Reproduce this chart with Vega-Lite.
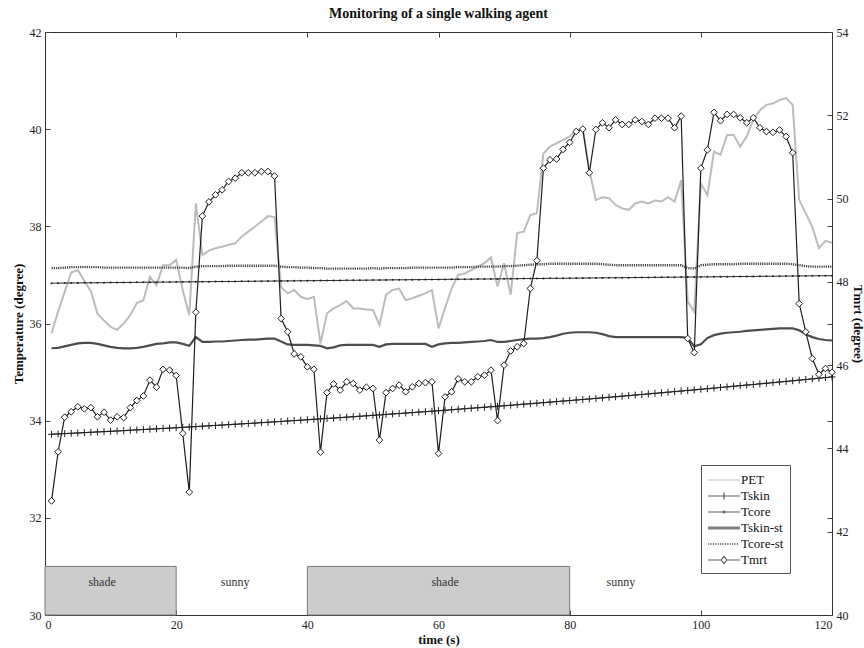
{
"$schema":"https://vega.github.io/schema/vega-lite/v6.json",
"width":787,"height":583,
"autosize":"none",
"padding":{"left":45,"top":32,"right":32,"bottom":33},
"title":{"text":"Monitoring of a single walking agent","font":"Liberation Serif","fontSize":14,"fontWeight":"bold","color":"#111","anchor":"middle","frame":"group","offset":5},
"config":{
 "font":"Liberation Serif",
 "view":{"stroke":"#333","strokeWidth":1},
 "axis":{"labelFont":"Liberation Serif","labelFontSize":12,"labelColor":"#222","titleFont":"Liberation Serif","titleFontSize":13,"titleFontWeight":"bold","titleColor":"#111","domainColor":"#333","tickColor":"#444","grid":false,"tickSize":-5,"labelPadding":9}
},
"datasets":{
"zones":[{"x0":0,"x1":20},{"x0":40,"x1":80}],
"labels":[{"x":8.7,"label":"shade"},{"x":29,"label":"sunny"},{"x":61,"label":"shade"},{"x":87.8,"label":"sunny"}],
"d":[
{"t":1,"PET":35.80,"Tskin":33.720,"Tcore":36.830,"Tskin_st":35.49,"Tcore_st":37.14,"Tmrt":42.74},
{"t":2,"PET":36.25,"Tskin":33.727,"Tcore":36.831,"Tskin_st":35.50,"Tcore_st":37.14,"Tmrt":43.92},
{"t":3,"PET":36.65,"Tskin":33.734,"Tcore":36.833,"Tskin_st":35.53,"Tcore_st":37.15,"Tmrt":44.75},
{"t":4,"PET":37.05,"Tskin":33.740,"Tcore":36.834,"Tskin_st":35.56,"Tcore_st":37.16,"Tmrt":44.88},
{"t":5,"PET":37.10,"Tskin":33.747,"Tcore":36.835,"Tskin_st":35.59,"Tcore_st":37.16,"Tmrt":45.00},
{"t":6,"PET":36.88,"Tskin":33.754,"Tcore":36.837,"Tskin_st":35.60,"Tcore_st":37.16,"Tmrt":44.95},
{"t":7,"PET":36.66,"Tskin":33.761,"Tcore":36.838,"Tskin_st":35.60,"Tcore_st":37.16,"Tmrt":44.98},
{"t":8,"PET":36.20,"Tskin":33.768,"Tcore":36.839,"Tskin_st":35.58,"Tcore_st":37.16,"Tmrt":44.76},
{"t":9,"PET":36.06,"Tskin":33.774,"Tcore":36.840,"Tskin_st":35.55,"Tcore_st":37.15,"Tmrt":44.87},
{"t":10,"PET":35.93,"Tskin":33.781,"Tcore":36.842,"Tskin_st":35.52,"Tcore_st":37.15,"Tmrt":44.68},
{"t":11,"PET":35.87,"Tskin":33.788,"Tcore":36.843,"Tskin_st":35.50,"Tcore_st":37.15,"Tmrt":44.76},
{"t":12,"PET":36.00,"Tskin":33.795,"Tcore":36.844,"Tskin_st":35.49,"Tcore_st":37.15,"Tmrt":44.74},
{"t":13,"PET":36.17,"Tskin":33.803,"Tcore":36.846,"Tskin_st":35.49,"Tcore_st":37.15,"Tmrt":44.98},
{"t":14,"PET":36.42,"Tskin":33.810,"Tcore":36.847,"Tskin_st":35.50,"Tcore_st":37.15,"Tmrt":45.15},
{"t":15,"PET":36.48,"Tskin":33.818,"Tcore":36.848,"Tskin_st":35.52,"Tcore_st":37.15,"Tmrt":45.26},
{"t":16,"PET":36.96,"Tskin":33.825,"Tcore":36.850,"Tskin_st":35.55,"Tcore_st":37.15,"Tmrt":45.64},
{"t":17,"PET":36.79,"Tskin":33.832,"Tcore":36.851,"Tskin_st":35.58,"Tcore_st":37.15,"Tmrt":45.47},
{"t":18,"PET":37.20,"Tskin":33.840,"Tcore":36.852,"Tskin_st":35.59,"Tcore_st":37.15,"Tmrt":45.90},
{"t":19,"PET":37.20,"Tskin":33.847,"Tcore":36.853,"Tskin_st":35.61,"Tcore_st":37.15,"Tmrt":45.88},
{"t":20,"PET":37.31,"Tskin":33.855,"Tcore":36.855,"Tskin_st":35.61,"Tcore_st":37.15,"Tmrt":45.75},
{"t":21,"PET":36.69,"Tskin":33.862,"Tcore":36.856,"Tskin_st":35.58,"Tcore_st":37.15,"Tmrt":44.36},
{"t":22,"PET":36.17,"Tskin":33.870,"Tcore":36.857,"Tskin_st":35.54,"Tcore_st":37.14,"Tmrt":42.95},
{"t":23,"PET":38.47,"Tskin":33.878,"Tcore":36.859,"Tskin_st":35.72,"Tcore_st":37.17,"Tmrt":47.27},
{"t":24,"PET":37.41,"Tskin":33.886,"Tcore":36.860,"Tskin_st":35.62,"Tcore_st":37.18,"Tmrt":49.58},
{"t":25,"PET":37.50,"Tskin":33.894,"Tcore":36.861,"Tskin_st":35.62,"Tcore_st":37.18,"Tmrt":49.92},
{"t":26,"PET":37.55,"Tskin":33.902,"Tcore":36.863,"Tskin_st":35.63,"Tcore_st":37.18,"Tmrt":50.09},
{"t":27,"PET":37.58,"Tskin":33.910,"Tcore":36.864,"Tskin_st":35.63,"Tcore_st":37.18,"Tmrt":50.21},
{"t":28,"PET":37.62,"Tskin":33.918,"Tcore":36.865,"Tskin_st":35.64,"Tcore_st":37.19,"Tmrt":50.41},
{"t":29,"PET":37.65,"Tskin":33.926,"Tcore":36.866,"Tskin_st":35.65,"Tcore_st":37.19,"Tmrt":50.49},
{"t":30,"PET":37.79,"Tskin":33.934,"Tcore":36.868,"Tskin_st":35.66,"Tcore_st":37.19,"Tmrt":50.62},
{"t":31,"PET":37.89,"Tskin":33.942,"Tcore":36.869,"Tskin_st":35.67,"Tcore_st":37.19,"Tmrt":50.62},
{"t":32,"PET":37.99,"Tskin":33.950,"Tcore":36.870,"Tskin_st":35.67,"Tcore_st":37.19,"Tmrt":50.62},
{"t":33,"PET":38.10,"Tskin":33.959,"Tcore":36.872,"Tskin_st":35.68,"Tcore_st":37.19,"Tmrt":50.65},
{"t":34,"PET":38.21,"Tskin":33.967,"Tcore":36.873,"Tskin_st":35.69,"Tcore_st":37.19,"Tmrt":50.65},
{"t":35,"PET":38.19,"Tskin":33.976,"Tcore":36.874,"Tskin_st":35.69,"Tcore_st":37.19,"Tmrt":50.54},
{"t":36,"PET":36.75,"Tskin":33.984,"Tcore":36.876,"Tskin_st":35.63,"Tcore_st":37.17,"Tmrt":47.12},
{"t":37,"PET":36.62,"Tskin":33.993,"Tcore":36.877,"Tskin_st":35.57,"Tcore_st":37.16,"Tmrt":46.80},
{"t":38,"PET":36.69,"Tskin":34.002,"Tcore":36.878,"Tskin_st":35.56,"Tcore_st":37.16,"Tmrt":46.27},
{"t":39,"PET":36.55,"Tskin":34.010,"Tcore":36.879,"Tskin_st":35.56,"Tcore_st":37.15,"Tmrt":46.20},
{"t":40,"PET":36.50,"Tskin":34.019,"Tcore":36.881,"Tskin_st":35.56,"Tcore_st":37.15,"Tmrt":45.96},
{"t":41,"PET":36.55,"Tskin":34.028,"Tcore":36.882,"Tskin_st":35.55,"Tcore_st":37.14,"Tmrt":45.90},
{"t":42,"PET":35.59,"Tskin":34.037,"Tcore":36.883,"Tskin_st":35.54,"Tcore_st":37.14,"Tmrt":43.91},
{"t":43,"PET":36.21,"Tskin":34.046,"Tcore":36.885,"Tskin_st":35.49,"Tcore_st":37.13,"Tmrt":45.34},
{"t":44,"PET":36.31,"Tskin":34.054,"Tcore":36.886,"Tskin_st":35.51,"Tcore_st":37.13,"Tmrt":45.55},
{"t":45,"PET":36.38,"Tskin":34.063,"Tcore":36.887,"Tskin_st":35.55,"Tcore_st":37.13,"Tmrt":45.40},
{"t":46,"PET":36.46,"Tskin":34.072,"Tcore":36.889,"Tskin_st":35.56,"Tcore_st":37.13,"Tmrt":45.60},
{"t":47,"PET":36.31,"Tskin":34.081,"Tcore":36.890,"Tskin_st":35.56,"Tcore_st":37.13,"Tmrt":45.56},
{"t":48,"PET":36.31,"Tskin":34.091,"Tcore":36.891,"Tskin_st":35.56,"Tcore_st":37.13,"Tmrt":45.40},
{"t":49,"PET":36.29,"Tskin":34.100,"Tcore":36.892,"Tskin_st":35.56,"Tcore_st":37.13,"Tmrt":45.47},
{"t":50,"PET":36.28,"Tskin":34.110,"Tcore":36.894,"Tskin_st":35.56,"Tcore_st":37.14,"Tmrt":45.44},
{"t":51,"PET":35.97,"Tskin":34.119,"Tcore":36.895,"Tskin_st":35.52,"Tcore_st":37.13,"Tmrt":44.20},
{"t":52,"PET":36.59,"Tskin":34.128,"Tcore":36.896,"Tskin_st":35.57,"Tcore_st":37.14,"Tmrt":45.34},
{"t":53,"PET":36.69,"Tskin":34.138,"Tcore":36.898,"Tskin_st":35.58,"Tcore_st":37.14,"Tmrt":45.44},
{"t":54,"PET":36.72,"Tskin":34.147,"Tcore":36.899,"Tskin_st":35.58,"Tcore_st":37.14,"Tmrt":45.52},
{"t":55,"PET":36.48,"Tskin":34.157,"Tcore":36.900,"Tskin_st":35.58,"Tcore_st":37.14,"Tmrt":45.36},
{"t":56,"PET":36.52,"Tskin":34.166,"Tcore":36.902,"Tskin_st":35.58,"Tcore_st":37.15,"Tmrt":45.48},
{"t":57,"PET":36.57,"Tskin":34.176,"Tcore":36.903,"Tskin_st":35.58,"Tcore_st":37.15,"Tmrt":45.56},
{"t":58,"PET":36.62,"Tskin":34.186,"Tcore":36.904,"Tskin_st":35.58,"Tcore_st":37.15,"Tmrt":45.58},
{"t":59,"PET":36.69,"Tskin":34.195,"Tcore":36.905,"Tskin_st":35.52,"Tcore_st":37.15,"Tmrt":45.60},
{"t":60,"PET":35.90,"Tskin":34.205,"Tcore":36.907,"Tskin_st":35.57,"Tcore_st":37.15,"Tmrt":43.88},
{"t":61,"PET":36.32,"Tskin":34.215,"Tcore":36.908,"Tskin_st":35.59,"Tcore_st":37.15,"Tmrt":45.24},
{"t":62,"PET":36.72,"Tskin":34.225,"Tcore":36.909,"Tskin_st":35.60,"Tcore_st":37.15,"Tmrt":45.36},
{"t":63,"PET":37.00,"Tskin":34.235,"Tcore":36.911,"Tskin_st":35.60,"Tcore_st":37.16,"Tmrt":45.67},
{"t":64,"PET":37.03,"Tskin":34.246,"Tcore":36.912,"Tskin_st":35.61,"Tcore_st":37.16,"Tmrt":45.60},
{"t":65,"PET":37.10,"Tskin":34.256,"Tcore":36.913,"Tskin_st":35.62,"Tcore_st":37.16,"Tmrt":45.60},
{"t":66,"PET":37.17,"Tskin":34.266,"Tcore":36.915,"Tskin_st":35.63,"Tcore_st":37.17,"Tmrt":45.72},
{"t":67,"PET":37.24,"Tskin":34.276,"Tcore":36.916,"Tskin_st":35.64,"Tcore_st":37.17,"Tmrt":45.76},
{"t":68,"PET":37.36,"Tskin":34.286,"Tcore":36.917,"Tskin_st":35.66,"Tcore_st":37.17,"Tmrt":45.88},
{"t":69,"PET":36.76,"Tskin":34.297,"Tcore":36.918,"Tskin_st":35.62,"Tcore_st":37.17,"Tmrt":44.67},
{"t":70,"PET":37.24,"Tskin":34.307,"Tcore":36.920,"Tskin_st":35.62,"Tcore_st":37.18,"Tmrt":46.00},
{"t":71,"PET":36.59,"Tskin":34.317,"Tcore":36.921,"Tskin_st":35.64,"Tcore_st":37.18,"Tmrt":46.34},
{"t":72,"PET":37.86,"Tskin":34.328,"Tcore":36.922,"Tskin_st":35.66,"Tcore_st":37.19,"Tmrt":46.44},
{"t":73,"PET":37.89,"Tskin":34.339,"Tcore":36.924,"Tskin_st":35.68,"Tcore_st":37.20,"Tmrt":46.52},
{"t":74,"PET":38.23,"Tskin":34.349,"Tcore":36.925,"Tskin_st":35.69,"Tcore_st":37.21,"Tmrt":47.84},
{"t":75,"PET":38.27,"Tskin":34.360,"Tcore":36.926,"Tskin_st":35.69,"Tcore_st":37.22,"Tmrt":48.51},
{"t":76,"PET":39.50,"Tskin":34.371,"Tcore":36.928,"Tskin_st":35.70,"Tcore_st":37.22,"Tmrt":50.73},
{"t":77,"PET":39.64,"Tskin":34.382,"Tcore":36.929,"Tskin_st":35.72,"Tcore_st":37.23,"Tmrt":50.93},
{"t":78,"PET":39.71,"Tskin":34.393,"Tcore":36.930,"Tskin_st":35.75,"Tcore_st":37.23,"Tmrt":50.95},
{"t":79,"PET":39.78,"Tskin":34.403,"Tcore":36.931,"Tskin_st":35.79,"Tcore_st":37.23,"Tmrt":51.18},
{"t":80,"PET":39.85,"Tskin":34.414,"Tcore":36.933,"Tskin_st":35.81,"Tcore_st":37.23,"Tmrt":51.35},
{"t":81,"PET":39.98,"Tskin":34.425,"Tcore":36.934,"Tskin_st":35.82,"Tcore_st":37.23,"Tmrt":51.61},
{"t":82,"PET":40.02,"Tskin":34.436,"Tcore":36.935,"Tskin_st":35.82,"Tcore_st":37.23,"Tmrt":51.67},
{"t":83,"PET":39.15,"Tskin":34.447,"Tcore":36.937,"Tskin_st":35.82,"Tcore_st":37.23,"Tmrt":50.62},
{"t":84,"PET":38.54,"Tskin":34.459,"Tcore":36.938,"Tskin_st":35.81,"Tcore_st":37.23,"Tmrt":51.66},
{"t":85,"PET":38.60,"Tskin":34.470,"Tcore":36.939,"Tskin_st":35.78,"Tcore_st":37.22,"Tmrt":51.82},
{"t":86,"PET":38.58,"Tskin":34.481,"Tcore":36.941,"Tskin_st":35.74,"Tcore_st":37.21,"Tmrt":51.70},
{"t":87,"PET":38.44,"Tskin":34.493,"Tcore":36.942,"Tskin_st":35.72,"Tcore_st":37.20,"Tmrt":51.89},
{"t":88,"PET":38.37,"Tskin":34.504,"Tcore":36.943,"Tskin_st":35.72,"Tcore_st":37.20,"Tmrt":51.78},
{"t":89,"PET":38.34,"Tskin":34.516,"Tcore":36.944,"Tskin_st":35.72,"Tcore_st":37.20,"Tmrt":51.78},
{"t":90,"PET":38.47,"Tskin":34.527,"Tcore":36.946,"Tskin_st":35.72,"Tcore_st":37.20,"Tmrt":51.89},
{"t":91,"PET":38.51,"Tskin":34.539,"Tcore":36.947,"Tskin_st":35.72,"Tcore_st":37.20,"Tmrt":51.85},
{"t":92,"PET":38.47,"Tskin":34.551,"Tcore":36.948,"Tskin_st":35.72,"Tcore_st":37.20,"Tmrt":51.78},
{"t":93,"PET":38.53,"Tskin":34.563,"Tcore":36.950,"Tskin_st":35.72,"Tcore_st":37.20,"Tmrt":51.93},
{"t":94,"PET":38.51,"Tskin":34.574,"Tcore":36.951,"Tskin_st":35.72,"Tcore_st":37.20,"Tmrt":51.93},
{"t":95,"PET":38.60,"Tskin":34.586,"Tcore":36.952,"Tskin_st":35.72,"Tcore_st":37.20,"Tmrt":51.93},
{"t":96,"PET":38.51,"Tskin":34.598,"Tcore":36.954,"Tskin_st":35.72,"Tcore_st":37.20,"Tmrt":51.70},
{"t":97,"PET":38.95,"Tskin":34.610,"Tcore":36.955,"Tskin_st":35.72,"Tcore_st":37.20,"Tmrt":51.98},
{"t":98,"PET":36.45,"Tskin":34.622,"Tcore":36.956,"Tskin_st":35.70,"Tcore_st":37.14,"Tmrt":46.64},
{"t":99,"PET":36.24,"Tskin":34.634,"Tcore":36.957,"Tskin_st":35.53,"Tcore_st":37.13,"Tmrt":46.30},
{"t":100,"PET":38.88,"Tskin":34.646,"Tcore":36.959,"Tskin_st":35.57,"Tcore_st":37.20,"Tmrt":50.73},
{"t":101,"PET":38.64,"Tskin":34.658,"Tcore":36.960,"Tskin_st":35.70,"Tcore_st":37.21,"Tmrt":51.17},
{"t":102,"PET":39.54,"Tskin":34.670,"Tcore":36.961,"Tskin_st":35.76,"Tcore_st":37.22,"Tmrt":52.07},
{"t":103,"PET":39.47,"Tskin":34.683,"Tcore":36.963,"Tskin_st":35.79,"Tcore_st":37.22,"Tmrt":51.87},
{"t":104,"PET":39.88,"Tskin":34.695,"Tcore":36.964,"Tskin_st":35.81,"Tcore_st":37.22,"Tmrt":52.02},
{"t":105,"PET":39.88,"Tskin":34.708,"Tcore":36.965,"Tskin_st":35.82,"Tcore_st":37.22,"Tmrt":52.02},
{"t":106,"PET":39.64,"Tskin":34.720,"Tcore":36.967,"Tskin_st":35.83,"Tcore_st":37.23,"Tmrt":51.94},
{"t":107,"PET":39.85,"Tskin":34.733,"Tcore":36.968,"Tskin_st":35.85,"Tcore_st":37.23,"Tmrt":51.82},
{"t":108,"PET":40.19,"Tskin":34.745,"Tcore":36.969,"Tskin_st":35.86,"Tcore_st":37.23,"Tmrt":51.94},
{"t":109,"PET":40.39,"Tskin":34.758,"Tcore":36.970,"Tskin_st":35.87,"Tcore_st":37.23,"Tmrt":51.70},
{"t":110,"PET":40.50,"Tskin":34.770,"Tcore":36.972,"Tskin_st":35.88,"Tcore_st":37.23,"Tmrt":51.61},
{"t":111,"PET":40.53,"Tskin":34.783,"Tcore":36.973,"Tskin_st":35.89,"Tcore_st":37.23,"Tmrt":51.59},
{"t":112,"PET":40.60,"Tskin":34.796,"Tcore":36.974,"Tskin_st":35.90,"Tcore_st":37.23,"Tmrt":51.65},
{"t":113,"PET":40.64,"Tskin":34.808,"Tcore":36.976,"Tskin_st":35.90,"Tcore_st":37.23,"Tmrt":51.49},
{"t":114,"PET":40.50,"Tskin":34.821,"Tcore":36.977,"Tskin_st":35.90,"Tcore_st":37.22,"Tmrt":51.10},
{"t":115,"PET":38.54,"Tskin":34.834,"Tcore":36.978,"Tskin_st":35.86,"Tcore_st":37.20,"Tmrt":47.48},
{"t":116,"PET":38.27,"Tskin":34.847,"Tcore":36.980,"Tskin_st":35.78,"Tcore_st":37.18,"Tmrt":46.80},
{"t":117,"PET":37.99,"Tskin":34.860,"Tcore":36.981,"Tskin_st":35.72,"Tcore_st":37.17,"Tmrt":46.16},
{"t":118,"PET":37.55,"Tskin":34.874,"Tcore":36.982,"Tskin_st":35.68,"Tcore_st":37.17,"Tmrt":45.78},
{"t":119,"PET":37.70,"Tskin":34.887,"Tcore":36.983,"Tskin_st":35.66,"Tcore_st":37.17,"Tmrt":45.92},
{"t":120,"PET":37.66,"Tskin":34.900,"Tcore":36.985,"Tskin_st":35.65,"Tcore_st":37.17,"Tmrt":45.83}
]},
"data":{"name":"d"},
"resolve":{"scale":{"y":"independent"},"axis":{"x":"independent","y":"independent"}},
"layer":[
{"data":{"name":"zones"},
 "mark":{"type":"rect","fill":"#cccccc","stroke":"#7a7a7a","strokeWidth":1},
 "encoding":{
  "x":{"field":"x0","type":"quantitative","scale":{"domain":[0,120],"nice":false,"zero":false},"axis":null},
  "x2":{"field":"x1"},
  "y":{"datum":30,"type":"quantitative","scale":{"domain":[30,42],"nice":false,"zero":false},"axis":null},
  "y2":{"datum":31}}},
{"data":{"name":"labels"},
 "mark":{"type":"text","font":"Liberation Serif","fontSize":12,"color":"#333"},
 "encoding":{
  "x":{"field":"x","type":"quantitative","scale":{"domain":[0,120],"nice":false,"zero":false},"axis":null},
  "y":{"datum":30.68,"type":"quantitative","scale":{"domain":[30,42],"nice":false,"zero":false},"axis":null},
  "text":{"field":"label"}}},
{"mark":{"type":"line","color":"#bcbcbc","strokeWidth":2},
 "encoding":{
  "x":{"field":"t","type":"quantitative","scale":{"domain":[0,120],"nice":false,"zero":false},
       "axis":{"orient":"bottom","values":[0,20,40,60,80,100,120],"title":"time (s)","titlePadding":3}},
  "y":{"field":"PET","type":"quantitative","scale":{"domain":[30,42],"nice":false,"zero":false},
       "axis":{"orient":"left","values":[30,32,34,36,38,40,42],"title":"Temperature (degree)","titlePadding":4}}}},
{"mark":{"type":"line","color":"#444444","strokeWidth":2.4,"strokeDash":[1.2,1]},
 "encoding":{
  "x":{"field":"t","type":"quantitative","scale":{"domain":[0,120],"nice":false,"zero":false},
       "axis":{"orient":"top","values":[20,40,60,80,100],"labels":false,"title":null,"domain":false}},
  "y":{"field":"Tcore_st","type":"quantitative","scale":{"domain":[30,42],"nice":false,"zero":false},
       "axis":{"orient":"right","values":[32,34,36,38,40],"labels":false,"title":null,"domain":false}}}},
{"mark":{"type":"line","color":"#2a2a2a","strokeWidth":1},
 "encoding":{
  "x":{"field":"t","type":"quantitative","scale":{"domain":[0,120],"nice":false,"zero":false},"axis":null},
  "y":{"field":"Tcore","type":"quantitative","scale":{"domain":[30,42],"nice":false,"zero":false},"axis":null}}},
{"mark":{"type":"point","filled":true,"shape":"circle","size":4,"color":"#222222","opacity":1},
 "encoding":{
  "x":{"field":"t","type":"quantitative","scale":{"domain":[0,120],"nice":false,"zero":false},"axis":null},
  "y":{"field":"Tcore","type":"quantitative","scale":{"domain":[30,42],"nice":false,"zero":false},"axis":null}}},
{"mark":{"type":"line","color":"#4d4d4d","strokeWidth":2.2},
 "encoding":{
  "x":{"field":"t","type":"quantitative","scale":{"domain":[0,120],"nice":false,"zero":false},"axis":null},
  "y":{"field":"Tskin_st","type":"quantitative","scale":{"domain":[30,42],"nice":false,"zero":false},"axis":null}}},
{"mark":{"type":"line","color":"#222222","strokeWidth":1},
 "encoding":{
  "x":{"field":"t","type":"quantitative","scale":{"domain":[0,120],"nice":false,"zero":false},"axis":null},
  "y":{"field":"Tskin","type":"quantitative","scale":{"domain":[30,42],"nice":false,"zero":false},"axis":null}}},
{"mark":{"type":"point","filled":false,"shape":"M-1,0H1M0,-1V1","size":49,"stroke":"#222222","strokeWidth":1,"opacity":1},
 "encoding":{
  "x":{"field":"t","type":"quantitative","scale":{"domain":[0,120],"nice":false,"zero":false},"axis":null},
  "y":{"field":"Tskin","type":"quantitative","scale":{"domain":[30,42],"nice":false,"zero":false},"axis":null}}},
{"mark":{"type":"line","color":"#1e1e1e","strokeWidth":1.2},
 "encoding":{
  "x":{"field":"t","type":"quantitative","scale":{"domain":[0,120],"nice":false,"zero":false},"axis":null},
  "y":{"field":"Tmrt","type":"quantitative","scale":{"domain":[40,54],"nice":false,"zero":false},
       "axis":{"orient":"right","values":[40,42,44,46,48,50,52,54],"title":"Tmrt (degree)","titlePadding":2}}}},
{"mark":{"type":"point","filled":true,"shape":"diamond","size":45,"fill":"white","stroke":"#1e1e1e","strokeWidth":1,"opacity":1},
 "encoding":{
  "x":{"field":"t","type":"quantitative","scale":{"domain":[0,120],"nice":false,"zero":false},"axis":null},
  "y":{"field":"Tmrt","type":"quantitative","scale":{"domain":[40,54],"nice":false,"zero":false},"axis":null}}},
{"data":{"values":[{"s":"PET"}]},
 "transform":[{"filter":"false"}],
 "mark":{"type":"point","filled":false},
 "encoding":{
  "color":{"field":"s","type":"nominal",
   "scale":{"domain":["PET","Tskin","Tcore","Tskin-st","Tcore-st","Tmrt"],"range":["#b5b5b5","#1a1a1a","#1a1a1a","#4d4d4d","#444444","#1a1a1a"]},
   "legend":{"title":null,"orient":"bottom-right","offset":42,"padding":6,"fillColor":"white","strokeColor":"#555555","labelFont":"Liberation Serif","labelFontSize":13,"labelColor":"#111111","symbolSize":256,"symbolStrokeWidth":1.2,"symbolOffset":16,"labelOffset":0,"rowPadding":0}},
  "shape":{"field":"s","type":"nominal",
   "scale":{"domain":["PET","Tskin","Tcore","Tskin-st","Tcore-st","Tmrt"],
    "range":["M-3,0H1","M-3,0H1M-1,-0.45V0.45","M-3,0H1M-1.08,-0.08H-0.92V0.08H-1.08Z","M-3,-0.1H1M-3,0H1M-3,0.1H1","M-3,-0.06H-2.85M-2.7,-0.06H-2.55M-2.4,-0.06H-2.25M-2.1,-0.06H-1.95M-1.8,-0.06H-1.65M-1.5,-0.06H-1.35M-1.2,-0.06H-1.05M-0.9,-0.06H-0.75M-0.6,-0.06H-0.45M-0.3,-0.06H-0.15M0,-0.06H0.15M0.3,-0.06H0.45M0.6,-0.06H0.75M-3,0.06H-2.85M-2.7,0.06H-2.55M-2.4,0.06H-2.25M-2.1,0.06H-1.95M-1.8,0.06H-1.65M-1.5,0.06H-1.35M-1.2,0.06H-1.05M-0.9,0.06H-0.75M-0.6,0.06H-0.45M-0.3,0.06H-0.15M0,0.06H0.15M0.3,0.06H0.45M0.6,0.06H0.75","M-3,0H-1.35M-0.65,0H1M-1,-0.45L-0.65,0L-1,0.45L-1.35,0Z"]},
   "legend":{"title":null,"orient":"bottom-right","offset":42,"padding":6,"fillColor":"white","strokeColor":"#555555","labelFont":"Liberation Serif","labelFontSize":13,"labelColor":"#111111","symbolSize":256,"symbolStrokeWidth":1.2,"symbolOffset":16,"labelOffset":0,"rowPadding":0}}}}
]
}
